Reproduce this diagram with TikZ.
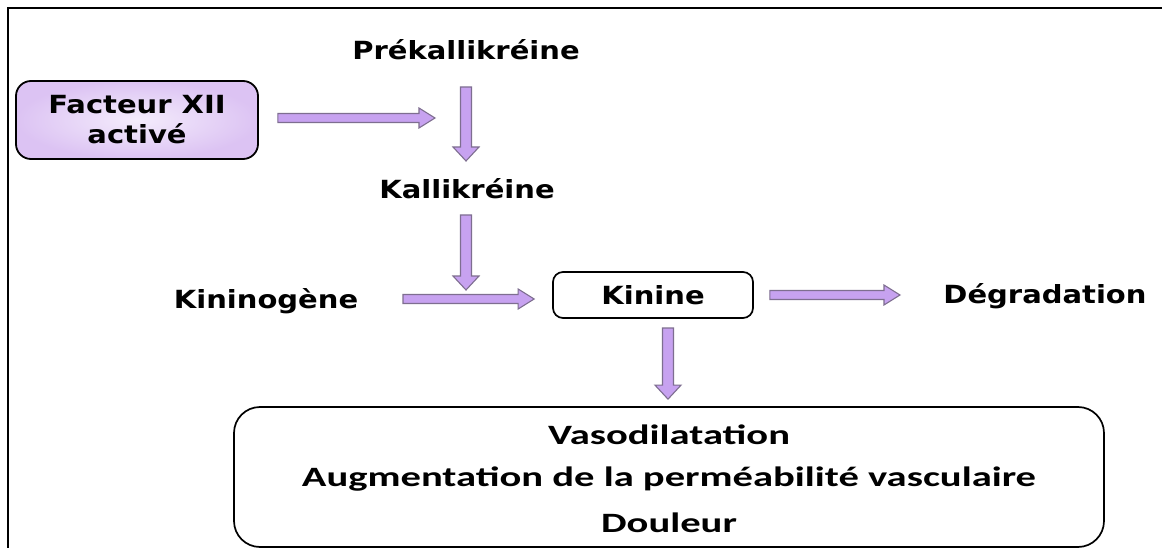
\documentclass[tikz,border=0pt]{standalone}
\usepackage{fontspec}
\usetikzlibrary{calc}
\newfontfamily\vfont{DejaVu Sans}[FakeStretch=1.16]
\newfontfamily\cfont{Carlito}[FakeStretch=1.45]
\definecolor{arrfill}{HTML}{C7A2F0}
\definecolor{arrline}{HTML}{7E6E90}
\definecolor{boxout}{HTML}{DCC3F3}
\definecolor{boxin}{HTML}{F4ECFC}
\tikzset{
  lbl/.style={font=\vfont\bfseries\fontsize{25}{30}\selectfont, text=black, inner sep=0pt, align=center},
  effl/.style={font=\cfont\bfseries\fontsize{28}{44}\selectfont, text=black, inner sep=0pt},
  arrowsty/.style={fill=arrfill, draw=arrline, line width=1.1pt, line join=miter},
  fxiibox/.style={lbl, draw=black, line width=1.8pt, rounded corners=15pt,
    shade, inner color=boxin, outer color=boxout,
    minimum width=242pt, minimum height=78pt},
  kinbox/.style={lbl, draw=black, line width=1.7pt, rounded corners=10pt, fill=white,
    minimum width=200pt, minimum height=46pt},
  effbox/.style={draw=black, line width=1.7pt, rounded corners=26pt, fill=white,
    minimum width=870pt, minimum height=140pt, inner sep=0pt}
}
% fat arrow: start, end, shaft half width, head half width, head length
\newcommand{\fatarr}[5]{%
  \coordinate (fab) at ($(#2)!#5!(#1)$);
  \filldraw[arrowsty] ($(#1)!#3!90:(#2)$) -- ($(fab)!#3!90:(#2)$) -- ($(fab)!#4!90:(#2)$)
    -- (#2) -- ($(fab)!#4!-90:(#2)$) -- ($(fab)!#3!-90:(#2)$) -- ($(#1)!#3!-90:(#2)$) -- cycle;}
\begin{document}
\begin{tikzpicture}[x=1pt,y=-1pt]
\useasboundingbox (0,0) rectangle (1162,548);
\fill[white] (0,0) rectangle (1162,548);
\draw[line width=2.5pt] (8,8) rectangle (1185,575);

% nodes
\node[fxiibox] (fxii) at (137,120) {Facteur XII\\activé};
\node[lbl] (prek) at (466,50) {Prékallikréine};
\node[lbl] (kall) at (467,189) {Kallikréine};
\node[lbl] (kinino) at (266,301) {Kininogène};
\node[kinbox] (kin) at (653,295) {Kinine};
\node[lbl] (degr) at (1045,296) {Dégradation};
\node[effbox] (eff) at (669,477) {};
\node[effl] (l1) at (669,435) {Vasodilatation};
\node[effl] (l2) at (669,479) {Augmentation de la perméabilité vasculaire};
\node[effl] (l3) at (669,523) {Douleur};

% arrow end points
\coordinate (a1s) at ($(fxii.east)+(19,-2)$);
\coordinate (a1e) at (435,118);
\coordinate (a2s) at (466,87);
\coordinate (a2e) at (466,161);
\coordinate (a3s) at (466,215);
\coordinate (a3e) at (466,290);
\coordinate (a4s) at (403,299);
\coordinate (a4e) at ($(kin.west)+(-18,4)$);
\coordinate (a5s) at ($(kin.east)+(16,0)$);
\coordinate (a5e) at (900,295);
\coordinate (a6s) at (668,328);
\coordinate (a6e) at ($(eff.north)+(-1,-7)$);

\fatarr{a1s}{a1e}{4.5pt}{10pt}{16pt}
\fatarr{a2s}{a2e}{5.5pt}{13pt}{14pt}
\fatarr{a3s}{a3e}{5.5pt}{13pt}{14pt}
\fatarr{a4s}{a4e}{4.5pt}{10pt}{16pt}
\fatarr{a5s}{a5e}{4.5pt}{10pt}{16pt}
\fatarr{a6s}{a6e}{5.5pt}{13pt}{14pt}
\end{tikzpicture}
\end{document}
